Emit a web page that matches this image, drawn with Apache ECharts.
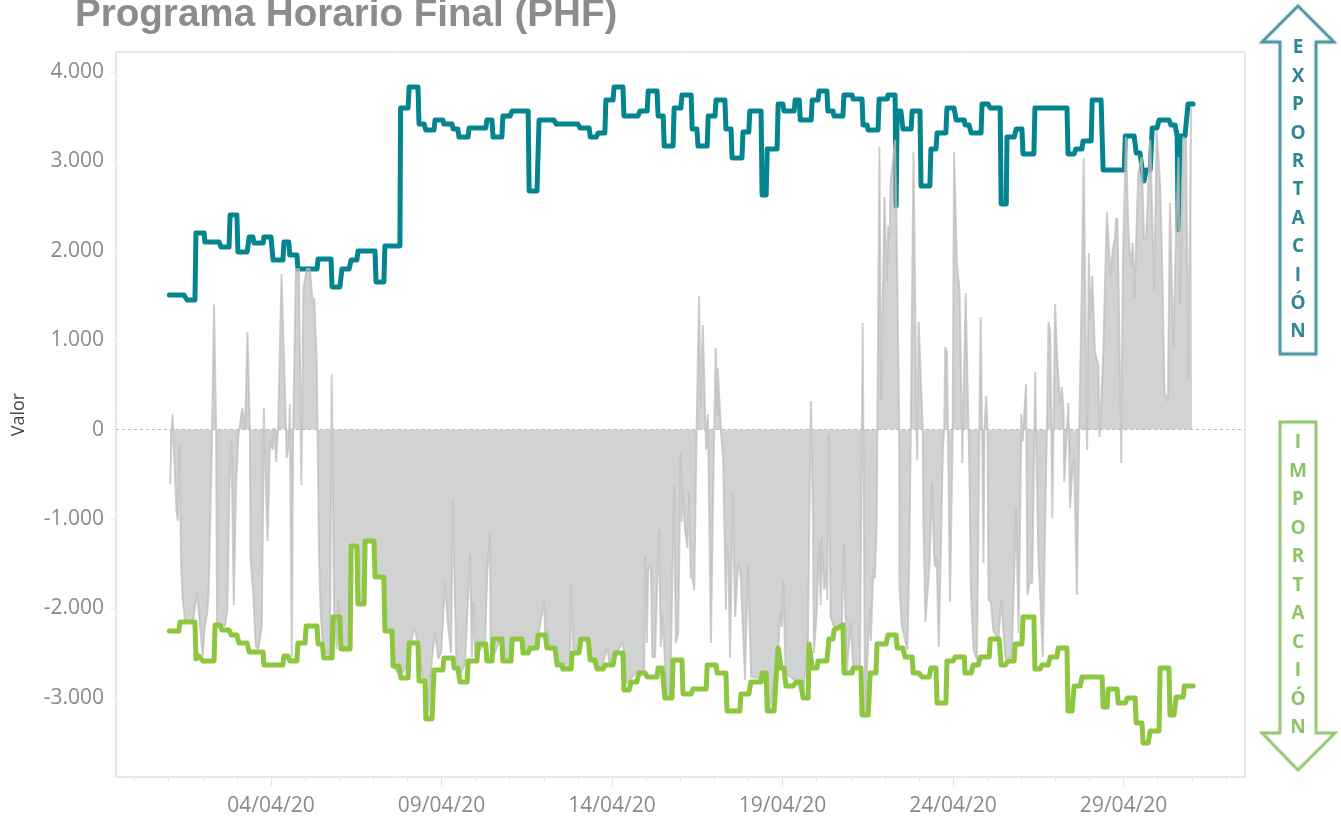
<!DOCTYPE html>
<html>
<head>
<meta charset="utf-8">
<title>Programa Horario Final (PHF)</title>
<script src="https://cdn.jsdelivr.net/npm/echarts@6/dist/echarts.min.js"></script>
<style>html,body{margin:0;padding:0;background:#fff}#c{width:1341px;height:816px}</style>
</head>
<body>
<div id="c"></div>
<script>
// Days are counted from 01/04/20 00:00; values in MW.
const labelDays = [3, 8, 13, 18, 23, 28];
const tickLabels = ["04/04/20", "09/04/20", "14/04/20", "19/04/20", "24/04/20", "29/04/20"];
const yTicks = [-3000, -2000, -1000, 0, 1000, 2000, 3000, 4000];
const exportLetters = ["E","X","P","O","R","T","A","C","I","Ó","N"];
const importLetters = ["I","M","P","O","R","T","A","C","I","Ó","N"];

const exportLimit = [[0.02,1505],[0.45,1505],[0.54,1449],[0.77,1449],[0.80,2198],[1.04,2198],[1.06,2097],[1.48,2097],[1.53,2041],[1.77,2041],[1.80,2399],[2.00,2399],[2.03,1986],[2.30,1986],[2.36,2153],[2.47,2153],[2.50,2086],[2.77,2086],[2.79,2153],[3.00,2153],[3.06,1896],[3.35,1896],[3.38,2097],[3.52,2097],[3.55,1952],[3.76,1952],[3.79,1795],[4.35,1795],[4.38,1907],[4.76,1907],[4.79,1594],[5.02,1594],[5.08,1795],[5.29,1795],[5.35,1896],[5.52,1896],[5.55,1997],[6.05,1997],[6.08,1650],[6.31,1650],[6.34,2053],[6.78,2053],[6.80,3596],[7.02,3596],[7.05,3831],[7.31,3831],[7.34,3417],[7.49,3417],[7.54,3350],[7.78,3350],[7.81,3462],[8.04,3462],[8.07,3417],[8.31,3417],[8.34,3361],[8.48,3361],[8.51,3272],[8.78,3272],[8.81,3373],[9.30,3373],[9.33,3462],[9.48,3462],[9.51,3272],[9.77,3272],[9.80,3507],[10.01,3507],[10.07,3563],[10.54,3563],[10.57,2668],[10.80,2668],[10.86,3462],[11.30,3462],[11.36,3417],[12.00,3417],[12.06,3373],[12.33,3373],[12.36,3272],[12.54,3272],[12.59,3317],[12.79,3317],[12.82,3686],[13.03,3686],[13.06,3831],[13.32,3831],[13.35,3507],[13.76,3507],[13.82,3563],[14.03,3563],[14.06,3786],[14.32,3786],[14.35,3507],[14.50,3507],[14.53,3171],[14.79,3171],[14.82,3596],[15.02,3596],[15.05,3742],[15.32,3742],[15.35,3361],[15.49,3361],[15.52,3171],[15.79,3171],[15.82,3507],[16.02,3507],[16.05,3686],[16.31,3686],[16.34,3361],[16.49,3361],[16.52,3037],[16.81,3037],[16.84,3328],[17.01,3328],[17.04,3563],[17.37,3563],[17.40,2623],[17.52,2623],[17.55,3138],[17.84,3138],[17.87,3641],[18.01,3641],[18.04,3563],[18.34,3563],[18.37,3686],[18.49,3686],[18.52,3462],[18.84,3462],[18.87,3686],[19.04,3686],[19.07,3786],[19.30,3786],[19.33,3563],[19.48,3563],[19.51,3507],[19.77,3507],[19.80,3742],[20.04,3742],[20.07,3697],[20.33,3697],[20.36,3406],[20.48,3406],[20.51,3350],[20.80,3350],[20.83,3697],[21.07,3697],[21.09,3742],[21.30,3742],[21.33,2500],[21.36,3563],[21.47,3563],[21.53,3361],[21.77,3361],[21.80,3563],[22.03,3563],[22.06,2724],[22.32,2724],[22.35,3138],[22.50,3138],[22.53,3317],[22.79,3317],[22.82,3596],[23.03,3596],[23.09,3462],[23.33,3462],[23.35,3406],[23.47,3406],[23.53,3317],[23.82,3317],[23.85,3641],[24.03,3641],[24.09,3596],[24.38,3596],[24.41,2522],[24.56,2522],[24.58,3272],[24.79,3272],[24.85,3361],[25.02,3361],[25.05,3082],[25.37,3082],[25.40,3596],[26.34,3596],[26.37,3082],[26.55,3082],[26.60,3138],[26.78,3138],[26.81,3227],[27.05,3227],[27.08,3686],[27.34,3686],[27.40,2903],[28.02,2903],[28.05,3283],[28.31,3283],[28.37,3093],[28.48,3093],[28.54,2925],[28.60,2780],[28.66,2903],[28.78,2903],[28.84,3373],[28.98,3373],[29.04,3462],[29.33,3462],[29.39,3406],[29.51,3406],[29.57,3283],[29.60,2232],[29.66,3283],[29.80,3283],[29.89,3641],[30.04,3641]];

const importLimit = [[0.02,-2254],[0.30,-2254],[0.33,-2153],[0.77,-2153],[0.80,-2567],[0.89,-2534],[1.01,-2590],[1.33,-2590],[1.36,-2187],[1.50,-2187],[1.56,-2243],[1.77,-2243],[1.83,-2299],[2.00,-2299],[2.06,-2388],[2.30,-2388],[2.36,-2489],[2.77,-2489],[2.79,-2634],[3.35,-2634],[3.38,-2534],[3.50,-2534],[3.55,-2590],[3.76,-2590],[3.79,-2388],[4.00,-2388],[4.03,-2198],[4.35,-2198],[4.38,-2399],[4.50,-2399],[4.55,-2556],[4.79,-2556],[4.82,-2097],[5.02,-2097],[5.05,-2455],[5.32,-2455],[5.35,-1303],[5.52,-1303],[5.55,-1952],[5.73,-1952],[5.76,-1247],[6.02,-1247],[6.05,-1650],[6.31,-1650],[6.34,-2254],[6.55,-2254],[6.58,-2646],[6.75,-2646],[6.81,-2780],[7.02,-2780],[7.05,-2388],[7.31,-2388],[7.34,-2813],[7.52,-2813],[7.54,-3238],[7.72,-3238],[7.78,-2690],[8.04,-2690],[8.07,-2556],[8.34,-2556],[8.37,-2668],[8.48,-2668],[8.54,-2825],[8.75,-2825],[8.78,-2590],[9.04,-2590],[9.07,-2399],[9.30,-2399],[9.33,-2590],[9.48,-2590],[9.51,-2343],[9.77,-2343],[9.80,-2590],[10.04,-2590],[10.07,-2343],[10.36,-2343],[10.39,-2500],[10.54,-2500],[10.60,-2444],[10.80,-2444],[10.83,-2299],[11.04,-2299],[11.09,-2444],[11.33,-2444],[11.39,-2634],[11.53,-2634],[11.56,-2679],[11.80,-2679],[11.83,-2500],[12.03,-2500],[12.09,-2343],[12.30,-2343],[12.36,-2578],[12.50,-2578],[12.56,-2679],[12.74,-2679],[12.79,-2634],[13.03,-2634],[13.09,-2500],[13.32,-2500],[13.35,-2914],[13.50,-2914],[13.56,-2825],[13.73,-2825],[13.79,-2724],[13.97,-2724],[14.03,-2768],[14.32,-2768],[14.35,-2668],[14.47,-2668],[14.55,-3003],[14.76,-3003],[14.79,-2578],[15.05,-2578],[15.08,-2959],[15.32,-2959],[15.37,-2903],[15.76,-2903],[15.79,-2634],[16.05,-2634],[16.08,-2724],[16.34,-2724],[16.37,-3149],[16.75,-3149],[16.78,-2959],[17.01,-2959],[17.07,-2825],[17.37,-2825],[17.40,-2724],[17.52,-2724],[17.55,-3149],[17.75,-3149],[17.87,-2444],[17.96,-2668],[18.04,-2668],[18.10,-2869],[18.31,-2869],[18.40,-2825],[18.54,-2825],[18.60,-3003],[18.75,-3003],[18.78,-2399],[18.87,-2668],[19.01,-2668],[19.04,-2590],[19.30,-2590],[19.36,-2343],[19.48,-2343],[19.51,-2243],[19.77,-2187],[19.80,-2724],[20.04,-2724],[20.07,-2668],[20.30,-2668],[20.33,-3194],[20.51,-3194],[20.57,-2724],[20.74,-2724],[20.77,-2399],[21.04,-2399],[21.09,-2299],[21.33,-2299],[21.36,-2444],[21.53,-2444],[21.59,-2545],[21.80,-2545],[21.83,-2724],[22.00,-2724],[22.09,-2768],[22.30,-2768],[22.35,-2668],[22.50,-2668],[22.53,-3059],[22.79,-3059],[22.82,-2590],[23.00,-2590],[23.06,-2545],[23.33,-2545],[23.35,-2724],[23.53,-2724],[23.59,-2634],[23.74,-2634],[23.80,-2545],[24.06,-2545],[24.09,-2343],[24.35,-2343],[24.41,-2634],[24.53,-2634],[24.61,-2590],[24.79,-2590],[24.82,-2399],[25.02,-2399],[25.05,-2097],[25.37,-2097],[25.40,-2679],[25.55,-2679],[25.61,-2634],[25.79,-2634],[25.85,-2545],[26.05,-2545],[26.08,-2444],[26.34,-2444],[26.37,-3149],[26.49,-3149],[26.55,-2869],[26.73,-2869],[26.78,-2768],[27.37,-2768],[27.40,-3104],[27.52,-3104],[27.55,-2903],[27.81,-2903],[27.84,-3059],[28.05,-3059],[28.11,-3003],[28.34,-3003],[28.37,-3283],[28.54,-3283],[28.57,-3507],[28.72,-3507],[28.78,-3373],[29.04,-3373],[29.07,-2668],[29.33,-2668],[29.36,-3194],[29.48,-3194],[29.54,-2992],[29.75,-2992],[29.78,-2869],[30.04,-2869]];

const finalProgram = [[0.04,-610],[0.11,173],[0.23,-912],[0.27,-1024],[0.32,-185],[0.36,-1437],[0.41,-1896],[0.48,-2142],[0.71,-2153],[0.83,-1818],[0.90,-2120],[1.00,-2534],[1.06,-2198],[1.13,-2041],[1.17,-1818],[1.26,-308],[1.33,1398],[1.39,0],[1.42,-2176],[1.65,-2198],[1.72,-2008],[1.78,-610],[1.84,-129],[1.91,-1963],[1.97,-677],[2.04,-73],[2.16,240],[2.24,0],[2.31,1091],[2.38,0],[2.40,-1437],[2.48,-1851],[2.55,-2422],[2.63,-2455],[2.73,-2198],[2.77,-677],[2.79,240],[2.85,-610],[2.90,-1247],[2.97,-117],[3.05,-229],[3.10,17],[3.15,-364],[3.21,39],[3.31,1739],[3.36,1717],[3.44,0],[3.46,-319],[3.53,-151],[3.55,285],[3.61,-2534],[3.65,0],[3.73,1795],[3.82,1795],[3.89,-621],[3.95,1583],[4.05,1795],[4.14,1795],[4.22,1415],[4.27,1471],[4.34,755],[4.39,733],[4.41,-1437],[4.46,-2075],[4.53,-2455],[4.73,-2534],[4.78,621],[4.85,-2008],[4.93,-2455],[4.97,-1896],[5.05,-2455],[5.32,-2455],[5.35,-1303],[5.52,-1303],[5.55,-1952],[5.73,-1952],[5.76,-1247],[6.02,-1247],[6.05,-1650],[6.31,-1650],[6.34,-2254],[6.55,-2254],[6.58,-2646],[6.78,-2757],[6.99,-2646],[7.19,-2209],[7.31,-2388],[7.52,-2947],[7.60,-3216],[7.72,-2567],[7.81,-2254],[7.90,-2567],[7.99,-2500],[8.04,-2153],[8.10,-1706],[8.19,-2198],[8.28,-2500],[8.33,-789],[8.43,-2545],[8.54,-2768],[8.69,-2612],[8.84,-1393],[8.89,-2545],[8.93,-1930],[8.99,-2545],[9.28,-2388],[9.34,-1605],[9.42,-1158],[9.44,-2433],[9.48,-2578],[9.72,-2355],[9.80,-2590],[10.04,-2590],[10.07,-2343],[10.36,-2343],[10.39,-2500],[10.80,-2444],[10.83,-2299],[11.01,-1930],[11.04,-2276],[11.11,-2243],[11.15,-2433],[11.33,-2444],[11.39,-2634],[11.77,-2679],[11.80,-1728],[11.87,-2467],[12.03,-2500],[12.09,-2355],[12.30,-2355],[12.36,-2556],[12.56,-2668],[12.74,-2612],[12.86,-2433],[12.92,-2612],[13.14,-2500],[13.31,-2377],[13.35,-2500],[13.43,-2836],[13.72,-2713],[13.94,-2690],[13.97,-1415],[14.02,-2388],[14.06,-1572],[14.14,-1516],[14.18,-2545],[14.26,-2545],[14.33,-1684],[14.38,-1124],[14.43,-2433],[14.47,-2075],[14.53,-2433],[14.60,-2992],[14.70,-2992],[14.73,-2467],[14.82,-621],[14.87,-2388],[14.94,-2276],[15.01,-252],[15.04,-1035],[15.07,-677],[15.14,-1124],[15.21,-1326],[15.26,-710],[15.31,-1650],[15.37,-1684],[15.41,-1795],[15.48,6],[15.55,1493],[15.60,252],[15.66,1169],[15.73,185],[15.76,-229],[15.81,173],[15.90,-2388],[15.97,-565],[16.04,912],[16.09,162],[16.10,688],[16.19,6],[16.26,-341],[16.34,-2019],[16.36,-1292],[16.41,-1426],[16.46,-2556],[16.54,-710],[16.61,-2097],[16.70,-1493],[16.77,-1605],[16.90,-2802],[16.98,-1527],[17.08,-2768],[17.34,-2780],[17.42,-2724],[17.63,-3138],[17.75,-2802],[17.87,-2500],[17.93,-2041],[17.98,-2209],[18.02,-1672],[18.09,-2724],[18.42,-2825],[18.59,-2992],[18.74,-2433],[18.83,319],[18.89,-934],[18.92,-2500],[19.00,-2053],[19.07,-1258],[19.12,-1963],[19.15,-1203],[19.22,-1795],[19.28,-1572],[19.31,-1907],[19.35,-50],[19.41,-2097],[19.51,-2209],[19.74,-2187],[19.80,-1270],[19.88,-2724],[20.00,-2153],[20.07,-2657],[20.27,-2657],[20.35,1191],[20.42,-3194],[20.55,-1997],[20.59,-2366],[20.66,-1549],[20.71,-1661],[20.76,-1012],[20.78,6],[20.84,3160],[20.89,330],[20.99,2601],[21.06,1650],[21.10,2276],[21.14,2153],[21.17,2791],[21.30,3238],[21.35,2097],[21.39,2097],[21.42,17],[21.43,-1762],[21.50,-2209],[21.66,-2467],[21.72,-1382],[21.76,6],[21.84,3104],[21.93,0],[21.95,-341],[21.99,1202],[22.03,811],[22.11,17],[22.13,-1012],[22.19,-2153],[22.31,-1493],[22.38,-587],[22.44,-1382],[22.47,-1538],[22.52,-1426],[22.58,-2433],[22.64,-1382],[22.70,-229],[22.74,6],[22.77,923],[22.82,867],[22.85,0],[22.91,-1930],[22.99,6],[23.03,3104],[23.11,1862],[23.19,1560],[23.26,0],[23.27,-375],[23.37,1527],[23.45,17],[23.48,-475],[23.52,-1762],[23.60,-2467],[23.70,-2578],[23.77,6],[23.81,1258],[23.85,0],[23.89,-1493],[23.92,0],[23.97,375],[24.01,0],[24.04,-1907],[24.11,-1930],[24.18,-2243],[24.33,-2355],[24.41,-1907],[24.53,-2556],[24.72,-2545],[24.85,-878],[24.92,-2276],[24.99,-263],[25.00,173],[25.04,-140],[25.14,509],[25.18,-1851],[25.24,-1717],[25.32,-1717],[25.41,643],[25.43,0],[25.50,-1382],[25.63,-2545],[25.75,6],[25.80,1202],[25.85,1091],[25.91,-990],[25.99,1404],[26.06,744],[26.14,274],[26.19,475],[26.24,185],[26.26,-587],[26.38,296],[26.43,-878],[26.51,-375],[26.55,-341],[26.63,-1851],[26.70,6],[26.77,1482],[26.83,3037],[26.92,17],[26.93,-229],[26.98,1974],[27.02,1225],[27.08,1717],[27.16,856],[27.26,721],[27.29,-84],[27.31,0],[27.41,923],[27.51,2433],[27.62,1706],[27.68,2008],[27.75,2142],[27.78,2366],[27.82,2343],[27.92,17],[27.93,-375],[27.94,17],[27.98,1874],[28.07,3272],[28.14,2232],[28.21,1818],[28.27,2086],[28.32,1471],[28.43,2869],[28.53,3048],[28.60,2131],[28.66,2120],[28.78,3238],[28.90,1560],[28.97,3350],[29.07,2757],[29.12,2041],[29.20,419],[29.30,308],[29.36,2534],[29.41,1695],[29.46,923],[29.54,2232],[29.61,3048],[29.66,1393],[29.75,3272],[29.83,3238],[29.90,565],[29.98,3596],[30.01,3596]];

const dayTicks = [];
for (let d = -1; d <= 31; d++) dayTicks.push(d);

const axisMin = -1.545, axisMax = 31.56;
const fontUI = '"Open Sans", sans-serif';

function thousands(v) {
  const s = String(Math.abs(v)).replace(/\B(?=(\d{3})+$)/g, '.');
  return (v < 0 ? '-' : '') + s;
}

function arrow(points, color) {
  return { type: 'polygon', shape: { points: points }, silent: true,
    style: { fill: 'rgba(255,255,255,0)', stroke: color, lineWidth: 2.4, lineJoin: 'miter', shadowBlur: 2, shadowColor: color } };
}
function letters(list, y0, step, color) {
  return list.map((ch, i) => ({ type: 'text', x: 1298, y: y0 + i * step, silent: true,
    style: { text: ch, fill: color, font: 'bold 19px "Open Sans", sans-serif', align: 'center', verticalAlign: 'middle',
      shadowBlur: 2, shadowColor: color } }));
}

const tealArrow = '#4f97a3', tealText = '#2d8794';
const greenArrow = '#96c878', greenText = '#8cc46a';

const chart = echarts.init(document.getElementById('c'), null, { renderer: 'canvas' });
chart.setOption({
  animation: false,
  backgroundColor: '#fff',
  title: { text: 'Programa Horario Final (PHF)', left: 70, top: -9,
    textStyle: { fontFamily: '"Liberation Sans", Arial, sans-serif', fontWeight: 'bold', fontSize: 38.6, color: '#8c8c8c' } },
  grid: { left: 116, top: 52, width: 1129, height: 725, show: true, borderColor: '#d0d0d0', borderWidth: 1, backgroundColor: 'transparent', outerBoundsMode: 'none', containLabel: false },
  xAxis: [
    { type: 'value', min: axisMin, max: axisMax, position: 'bottom', splitLine: { show: false },
      axisLine: { show: false, onZero: false },
      axisTick: { show: true, length: 9, lineStyle: { color: '#e2e2e2', width: 1 }, customValues: labelDays },
      axisLabel: { show: true, customValues: labelDays, margin: 19, fontFamily: fontUI, fontSize: 21, color: '#8a8a8a',
        formatter: v => tickLabels[labelDays.indexOf(v)] } },
    { type: 'value', min: axisMin, max: axisMax, position: 'bottom', splitLine: { show: false },
      axisLine: { show: false, onZero: false },
      axisTick: { show: true, length: 4, lineStyle: { color: '#e6e6e6', width: 1 }, customValues: dayTicks },
      axisLabel: { show: false } }
  ],
  yAxis: { type: 'value', min: -3887, max: 4223, name: 'Valor', nameLocation: 'middle', nameGap: 88, nameRotate: 90,
    nameTextStyle: { fontFamily: fontUI, fontSize: 18, color: '#444' },
    splitLine: { show: false }, axisLine: { show: false, onZero: false },
    axisTick: { show: true, length: 6, lineStyle: { color: '#eeeeee' }, customValues: yTicks },
    axisLabel: { show: true, customValues: yTicks, margin: 12, padding: [6, 0, 0, 0], fontFamily: fontUI, fontSize: 21, color: '#8a8a8a', formatter: v => thousands(v) } },
  series: [
    { name: 'Export', type: 'line', xAxisIndex: 0, data: exportLimit, showSymbol: false, symbol: 'none', z: 3, clip: true,
      lineStyle: { color: '#04848f', width: 5, cap: 'round', join: 'round' } },
    { name: 'PHF', type: 'line', xAxisIndex: 0, data: finalProgram, showSymbol: false, symbol: 'none', z: 4,
      lineStyle: { color: 'rgba(190,190,190,0.75)', width: 2 },
      areaStyle: { color: 'rgba(163,168,168,0.5)', opacity: 1, origin: 0 },
      markLine: { silent: true, symbol: 'none', label: { show: false }, animation: false,
        lineStyle: { color: '#b8b8b8', type: [3, 3], width: 1 }, data: [{ yAxis: 0 }] } },
    { name: 'Import', type: 'line', xAxisIndex: 0, data: importLimit, showSymbol: false, symbol: 'none', z: 5,
      lineStyle: { color: '#8dc63f', width: 5, cap: 'round', join: 'round' } }
  ],
  graphic: [
    arrow([[1298,6],[1334,42],[1316,42],[1316,354],[1280,354],[1280,42],[1262,42]], tealArrow),
    arrow([[1280,422],[1316,422],[1316,733],[1335,733],[1298,770],[1262,733],[1280,733]], greenArrow),
    ...letters(exportLetters, 48, 28.4, tealText),
    ...letters(importLetters, 443, 28.5, greenText)
  ]
});
</script>
</body>
</html>
